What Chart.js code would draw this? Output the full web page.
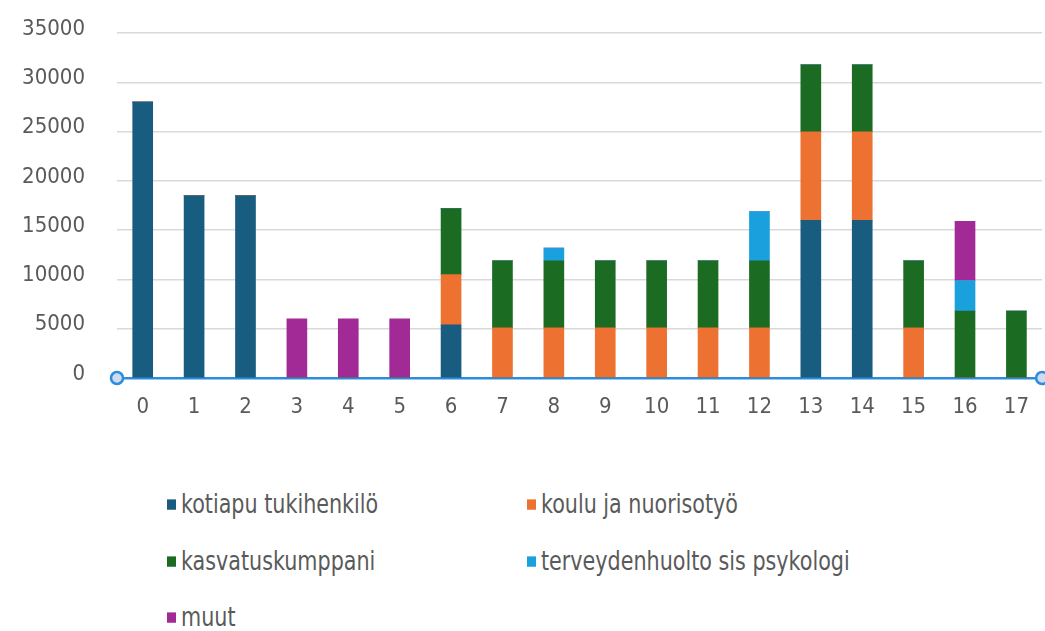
<!DOCTYPE html>
<html>
<head>
<meta charset="utf-8">
<script src="https://cdn.jsdelivr.net/npm/chart.js@4/dist/chart.umd.min.js"></script>
<style>
    body { margin: 0; background: #fff; width: 1045px; height: 631px; overflow: hidden; position: relative; }
    #wrap { position: absolute; left: 0; top: -12px; width: 1045px; height: 457px; }
    .leyenda-item { position: absolute; display: flex; align-items: center; font-family: "DejaVu Sans Condensed", "Liberation Sans", sans-serif; font-size: 23px; color: #5a5a5a; white-space: nowrap; transform: scaleY(1.15); transform-origin: left center; }
    .leyenda-item span.caja { display: inline-block; width: 9px; height: 9px; margin-right: 5px; }
</style>
</head>
<body>
<div id="wrap"><canvas id="grafico" width="1045" height="457"></canvas></div>
<div id="leyenda"></div>
<script>
const categorias = ['0', '1', '2', '3', '4', '5', '6', '7', '8', '9', '10', '11', '12', '13', '14', '15', '16', '17'];
const etiquetasY = [0, 5000, 10000, 15000, 20000, 25000, 30000, 35000];

const kotiapu   = [28000, 18500, 18500, 0, 0, 0, 5400, 0, 0, 0, 0, 0, 0, 16000, 16000, 0, 0, 0];
const koulu     = [0, 0, 0, 0, 0, 0, 5100, 5100, 5100, 5100, 5100, 5100, 5100, 9000, 9000, 5100, 0, 0];
const kasvatus  = [0, 0, 0, 0, 0, 0, 6700, 6800, 6800, 6800, 6800, 6800, 6800, 6800, 6800, 6800, 6800, 6800];
const terveys   = [0, 0, 0, 0, 0, 0, 0, 0, 1300, 0, 0, 0, 5000, 0, 0, 0, 3100, 0];
const muut      = [0, 0, 0, 6000, 6000, 6000, 0, 0, 0, 0, 0, 0, 0, 0, 0, 0, 6000, 0];

const series = [
    { label: 'kotiapu tukihenkilö', data: kotiapu, color: '#185c7f' },
    { label: 'koulu ja nuorisotyö', data: koulu, color: '#ed7131' },
    { label: 'kasvatuskumppani', data: kasvatus, color: '#1c6b22' },
    { label: 'terveydenhuolto sis psykologi', data: terveys, color: '#1aa0dc' },
    { label: 'muut', data: muut, color: '#a22a97' }
];

const fuente = '"DejaVu Sans Condensed", "Liberation Sans", sans-serif';

// circulos en los extremos del eje x
const extremosEje = {
    id: 'extremosEje',
    afterDraw(chart) {
        const ctx = chart.ctx;
        const y = chart.scales.y.getPixelForValue(0);
        [chart.chartArea.left, chart.chartArea.right].forEach(x => {
            ctx.save();
            ctx.beginPath();
            ctx.arc(x, y, 6, 0, Math.PI * 2);
            ctx.fillStyle = '#cddcf0';
            ctx.fill();
            ctx.lineWidth = 2.5;
            ctx.strokeStyle = '#2e8ddb';
            ctx.stroke();
            ctx.restore();
        });
    }
};

new Chart(document.getElementById('grafico').getContext('2d'), {
    type: 'bar',
    data: {
        labels: categorias,
        datasets: series.map(s => ({
            label: s.label,
            data: s.data,
            backgroundColor: s.color,
            borderWidth: 0,
            barThickness: 20
        }))
    },
    options: {
        responsive: false,
        animation: false,
        layout: { padding: { top: 8, left: 0, right: 0, bottom: 0 } },
        plugins: { legend: { display: false }, tooltip: { enabled: false } },
        scales: {
            x: {
                stacked: true,
                grid: { display: false, drawTicks: false },
                border: { display: true, color: '#2e8ddb', width: 2.5 },
                ticks: { color: '#5a5a5a', font: { family: fuente, size: 22 }, padding: 16 },
                afterFit(scale) { scale.height = 67; }
            },
            y: {
                stacked: true,
                min: 0,
                max: 35000,
                afterBuildTicks(scale) { scale.ticks = etiquetasY.map(v => ({ value: v })); },
                grid: { color: '#d9d9d9', lineWidth: 1.5, drawTicks: false },
                border: { display: false },
                ticks: {
                    color: '#5a5a5a',
                    font: { family: fuente, size: 22 },
                    padding: 32,
                    labelOffset: -4,
                    callback: v => String(v)
                },
                afterFit(scale) { scale.width = 117; }
            }
        }
    },
    plugins: [extremosEje]
});

// leyenda en dos columnas
const posiciones = [
    { x: 167, y: 505 }, { x: 527, y: 505 },
    { x: 167, y: 562 }, { x: 527, y: 562 },
    { x: 167, y: 618 }
];
const leyenda = document.getElementById('leyenda');
series.forEach((s, i) => {
    const item = document.createElement('div');
    item.className = 'leyenda-item';
    item.style.left = posiciones[i].x + 'px';
    item.style.top = (posiciones[i].y - 14) + 'px';
    item.innerHTML = `<span class="caja" style="background:${s.color}"></span>${s.label}`;
    leyenda.appendChild(item);
});
</script>
</body>
</html>
